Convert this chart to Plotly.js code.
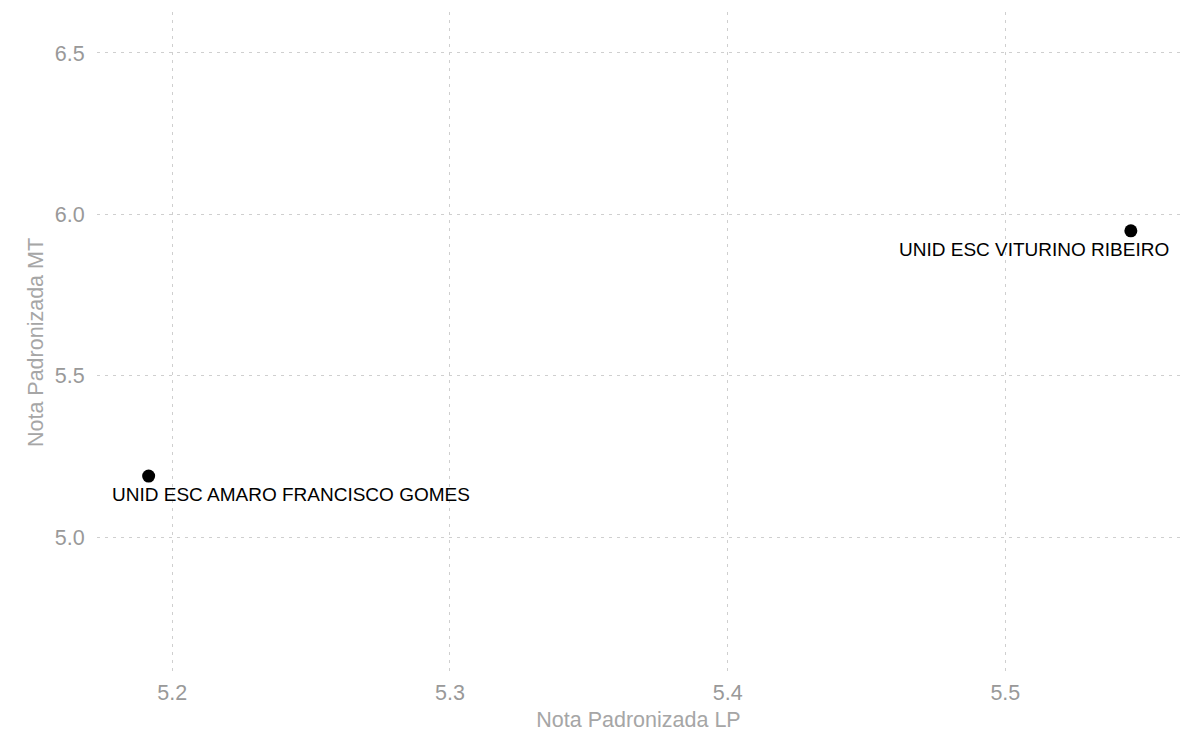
<!DOCTYPE html>
<html>
<head>
<meta charset="utf-8">
<script src="https://cdn.plot.ly/plotly-3.0.1.min.js"></script>
<style>html,body{margin:0;padding:0;background:#fff;}#chart{width:1192px;height:732px;}</style>
</head>
<body>
<div id="chart"></div>
<script>
const schools = ["UNID ESC AMARO FRANCISCO GOMES", "UNID ESC VITURINO RIBEIRO"];
const notaLP = [5.1915, 5.5452];
const notaMT = [5.189, 5.949];
const labelShiftX = [142, -97];
const labelShiftY = [-18.5, -19];

const trace = {
  x: notaLP, y: notaMT, mode: 'markers', type: 'scatter',
  marker: {color: '#000', size: 13},
  hoverinfo: 'text', text: schools, showlegend: false
};

const annotations = schools.map((s, i) => ({
  x: notaLP[i], y: notaMT[i], xref: 'x', yref: 'y', text: s, showarrow: false,
  xshift: labelShiftX[i], yshift: labelShiftY[i],
  font: {family: 'Liberation Sans, Arial, sans-serif', size: 19, color: '#000'}
}));

const layout = {
  width: 1192, height: 732,
  margin: {l: 97, r: 12, t: 12, b: 59},
  paper_bgcolor: '#fff', plot_bgcolor: '#fff',
  font: {family: 'Liberation Sans, Arial, sans-serif', color: '#999'},
  xaxis: {
    range: [5.1729, 5.5629], tickvals: [5.2, 5.3, 5.4, 5.5], ticktext: ['5.2','5.3','5.4','5.5'],
    showgrid: true, gridcolor: '#cfcfcf', griddash: '3px,5px', gridwidth: 1,
    zeroline: false, showline: false,
    ticks: 'outside', ticklen: 0, tickcolor: 'rgba(0,0,0,0)',
    tickfont: {size: 21.5, color: '#999999'},
    title: {text: 'Nota Padronizada LP', font: {size: 21.5, color: '#a6a6a6'}, standoff: 8}
  },
  yaxis: {
    range: [4.5786, 6.627], tickvals: [5.0, 5.5, 6.0, 6.5], ticktext: ['5.0','5.5','6.0','6.5'],
    showgrid: true, gridcolor: '#cfcfcf', griddash: '3px,5px', gridwidth: 1,
    zeroline: false, showline: false,
    ticks: 'outside', ticklen: 7, tickcolor: 'rgba(0,0,0,0)',
    tickfont: {size: 21.5, color: '#999999'},
    title: {text: 'Nota Padronizada MT', font: {size: 21.5, color: '#a6a6a6'}, standoff: 5}
  },
  annotations: annotations
};

Plotly.newPlot('chart', [trace], layout, {displayModeBar: false, staticPlot: true});
</script>
</body>
</html>
